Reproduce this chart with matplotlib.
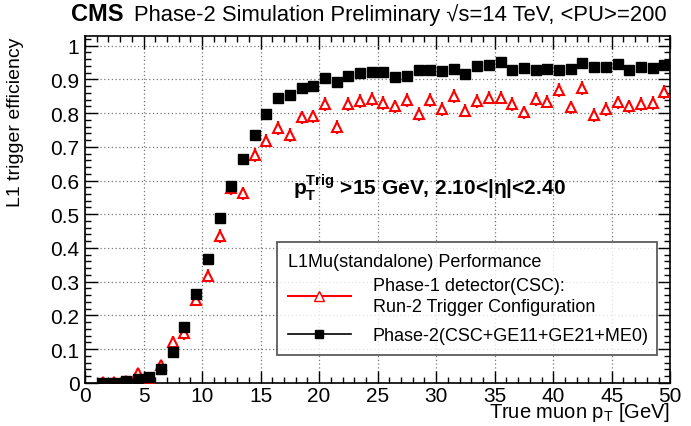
import numpy as np
import matplotlib
matplotlib.use('Agg')
import matplotlib.pyplot as plt
from matplotlib.lines import Line2D
from matplotlib.ticker import MultipleLocator

plt.rcParams['font.family'] = ['Liberation Sans', 'DejaVu Sans']
plt.rcParams['mathtext.fontset'] = 'custom'
plt.rcParams['mathtext.rm'] = 'Liberation Sans'
plt.rcParams['mathtext.bf'] = 'Liberation Sans:bold'

# bin centres (1 GeV bins)
pt = np.arange(1.5, 50.0, 1.0)

phase2_eff = [0.0, 0.0, 0.005, 0.012, 0.018, 0.041, 0.093, 0.165, 0.264, 0.367,
              0.488, 0.585, 0.664, 0.736, 0.797, 0.844, 0.853, 0.874, 0.881, 0.903,
              0.891, 0.909, 0.918, 0.921, 0.922, 0.908, 0.911, 0.927, 0.929, 0.924,
              0.930, 0.915, 0.940, 0.943, 0.950, 0.928, 0.934, 0.928, 0.932, 0.927,
              0.930, 0.947, 0.936, 0.937, 0.946, 0.927, 0.938, 0.934, 0.943]
phase2_err = [0.004, 0.004, 0.004, 0.005, 0.006, 0.008, 0.009, 0.010, 0.010, 0.010,
              0.010, 0.010, 0.009, 0.008, 0.008, 0.007, 0.007, 0.007, 0.007, 0.006,
              0.006, 0.006, 0.006, 0.006, 0.006, 0.006, 0.006, 0.006, 0.006, 0.006,
              0.006, 0.006, 0.006, 0.006, 0.006, 0.006, 0.006, 0.006, 0.006, 0.006,
              0.006, 0.006, 0.006, 0.006, 0.006, 0.006, 0.006, 0.006, 0.006]

phase1_eff = [0.002, 0.002, 0.005, 0.030, 0.015, 0.053, 0.122, 0.148, 0.247, 0.318,
              0.436, 0.577, 0.562, 0.675, 0.718, 0.756, 0.735, 0.787, 0.790, 0.827,
              0.758, 0.827, 0.836, 0.841, 0.830, 0.820, 0.839, 0.797, 0.839, 0.812,
              0.851, 0.807, 0.836, 0.846, 0.846, 0.827, 0.802, 0.841, 0.834, 0.868,
              0.817, 0.874, 0.794, 0.812, 0.832, 0.820, 0.827, 0.830, 0.863]
phase1_err = [0.008, 0.008, 0.008, 0.012, 0.010, 0.015, 0.018, 0.020, 0.020, 0.020,
              0.020, 0.020, 0.020, 0.020, 0.020, 0.020, 0.020, 0.020, 0.020, 0.020,
              0.020, 0.020, 0.020, 0.020, 0.020, 0.020, 0.020, 0.020, 0.020, 0.020,
              0.020, 0.020, 0.020, 0.020, 0.020, 0.020, 0.020, 0.020, 0.020, 0.020,
              0.020, 0.020, 0.020, 0.020, 0.020, 0.020, 0.020, 0.020, 0.020]

fig = plt.figure(figsize=(6.91, 4.27), dpi=100)
ax = fig.add_axes([0.123, 0.101, 0.847, 0.812])

ax.errorbar(pt, phase1_eff, yerr=phase1_err, fmt='^', color='red', mfc='white',
            mec='red', ms=7.5, mew=1.5, elinewidth=1.6, capsize=0, zorder=3)
ax.errorbar(pt, phase2_eff, yerr=phase2_err, fmt='s', color='black', ms=6.5,
            elinewidth=1.2, capsize=0, zorder=4)

ax.set_xlim(0, 50)
ax.set_ylim(0, 1.028)
ax.xaxis.set_major_locator(MultipleLocator(5))
ax.xaxis.set_minor_locator(MultipleLocator(1))
ax.yaxis.set_minor_locator(MultipleLocator(0.02))
ax.set_yticks(np.arange(0, 1.01, 0.1))
ax.set_yticklabels(['0', '0.1', '0.2', '0.3', '0.4', '0.5', '0.6', '0.7', '0.8', '0.9', '1'])
ax.tick_params(which='both', direction='in', top=True, right=True, labelsize=15, width=1.0)
ax.tick_params(which='major', length=9)
ax.tick_params(which='minor', length=4.5)
ax.tick_params(axis='x', which='major', pad=2)
ax.tick_params(axis='y', which='major', pad=4)
ax.grid(True, which='major', linestyle=(0, (1, 2)), color='#777777', linewidth=0.9)
for sp in ax.spines.values():
    sp.set_linewidth(1.2)

ax.set_xlabel('True muon p$_{\\rm T}$ [GeV]', fontsize=14.5, loc='right', labelpad=-3)
ax.set_ylabel('L1 trigger efficiency', fontsize=14, loc='top', labelpad=19)

fig.text(71 / 691, 1 - 21 / 427, 'CMS', fontsize=17, fontweight='bold', va='baseline')
fig.text(134 / 691, 1 - 21 / 427, 'Phase-2 Simulation Preliminary \u221as=14 TeV, <PU>=200',
         fontsize=15.8, va='baseline')

ax.text(0.356, 0.565, 'p$_{\\bf T}^{\\bf Trig}$ >15 GeV, 2.10<|\u03b7|<2.40',
        transform=ax.transAxes, fontsize=15, fontweight='bold', va='center')

handles = [Line2D([], [], color='red', marker='^', mfc='white', mec='red', ms=7, lw=1.5),
           Line2D([], [], color='black', marker='s', ms=6, lw=1.2)]
labels = ['Phase-1 detector(CSC):\nRun-2 Trigger Configuration',
          'Phase-2(CSC+GE11+GE21+ME0)']
leg = ax.legend(handles, labels, title='L1Mu(standalone) Performance', loc='upper left',
                bbox_to_anchor=(0.328, 0.09, 0.65, 0.316), mode='expand',
                fontsize=13, title_fontsize=13,
                alignment='left', frameon=True, fancybox=False, edgecolor='#333333',
                handlelength=3.5, handletextpad=1.2, borderpad=0.6, labelspacing=0.65,
                borderaxespad=0)
leg.get_frame().set_linewidth(1.3)
leg._legend_box.sep = 5  # header sits close to the first entry
leg.get_texts()[0].set_linespacing(1.35)

fig.savefig('out.png', dpi=100)
